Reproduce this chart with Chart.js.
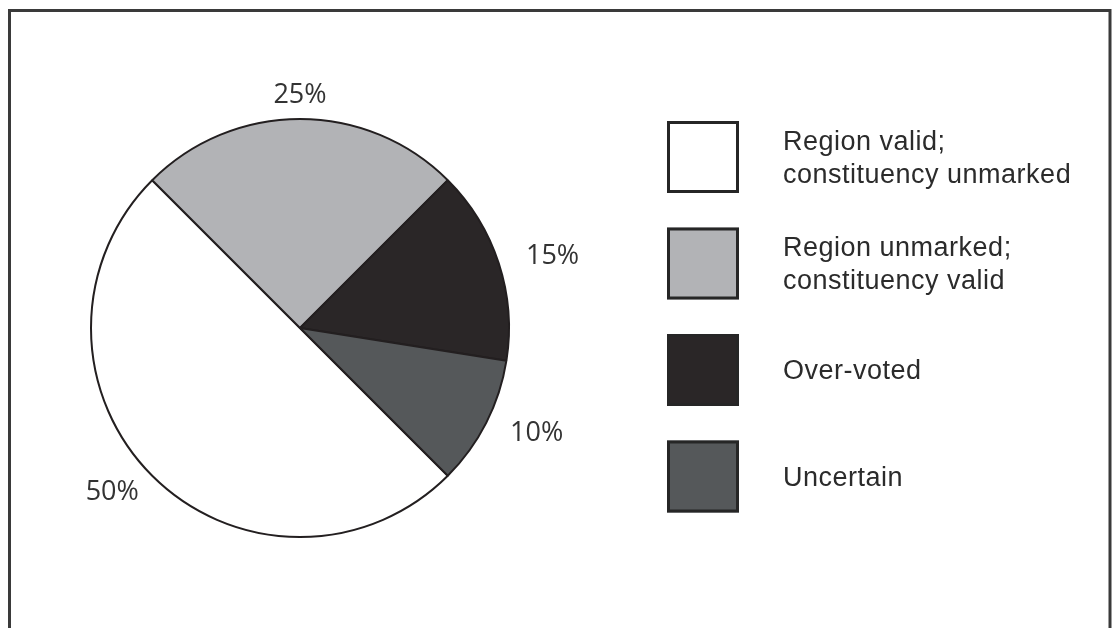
<!DOCTYPE html>
<html>
<head>
<meta charset="utf-8">
<script src="https://cdn.jsdelivr.net/npm/chart.js@4.4.1/dist/chart.umd.min.js"></script>
<style>
html, body { margin: 0; padding: 0; background: #fff; }
#wrap { width: 1112px; height: 628px; position: relative; }
</style>
</head>
<body>
<div id="wrap"><canvas id="myChart" width="1112" height="628"></canvas></div>
<script>
// categories (legend lines) and their shares in percent
var categories = [
	['Region valid;', 'constituency unmarked'],
	['Region unmarked;', 'constituency valid'],
	['Over-voted'],
	['Uncertain']
];
var shares = [50, 25, 15, 10];
var colours = ['#ffffff', '#b2b3b6', '#2a2627', '#55585a'];

// outer frame, open at the bottom like the scan
var framePlugin = {
	id: 'frame',
	beforeDraw: function(chart) {
		var ctx = chart.ctx;
		ctx.save();
		ctx.fillStyle = '#fff';
		ctx.fillRect(0, 0, chart.width, chart.height);
		ctx.strokeStyle = '#3a3a3a';
		ctx.lineWidth = 3;
		ctx.beginPath();
		ctx.moveTo(9.5, chart.height);
		ctx.lineTo(9.5, 10.5);
		ctx.lineTo(1110, 10.5);
		ctx.lineTo(1110, chart.height);
		ctx.stroke();
		ctx.restore();
	}
};

// percentage labels just outside each slice
var pctPlugin = {
	id: 'pctLabels',
	afterDatasetsDraw: function(chart) {
		var ctx = chart.ctx;
		var meta = chart.getDatasetMeta(0);
		ctx.save();
		ctx.font = '27px "Open Sans", sans-serif';
		ctx.fillStyle = '#333';
		ctx.textAlign = 'center';
		ctx.textBaseline = 'middle';
		meta.data.forEach(function(arc, i) {
			var p = arc.getProps(['x', 'y', 'startAngle', 'endAngle', 'outerRadius'], true);
			var mid = (p.startAngle + p.endAngle) / 2;
			var txt = shares[i] + '%';
			var w = ctx.measureText(txt).width;
			var h = 20;
			var d = p.outerRadius + 14;
			var cx = p.x + Math.cos(mid) * d + Math.cos(mid) * w * 0.8;
			var cy = p.y + Math.sin(mid) * d + Math.sin(mid) * h / 2;
			ctx.fillText(txt, cx, cy);
		});
		ctx.restore();
	}
};

// boxed legend on the right
var legendPlugin = {
	id: 'boxLegend',
	afterDraw: function(chart) {
		var ctx = chart.ctx;
		var bx = 667, by = 121, size = 72, step = 106.5;
		ctx.save();
		ctx.font = '27px "Liberation Sans", Arial, sans-serif';
		ctx.letterSpacing = '0.5px';
		ctx.textBaseline = 'alphabetic';
		ctx.textAlign = 'left';
		for (var i = 0; i < categories.length; i++) {
			var y0 = by + i * step;
			ctx.fillStyle = colours[i];
			ctx.fillRect(bx, y0, size, size);
			ctx.strokeStyle = '#262626';
			ctx.lineWidth = 3;
			ctx.strokeRect(bx + 1.5, y0 + 1.5, size - 3, size - 3);

			var lines = categories[i];
			var mid = y0 + size / 2;
			var lh = 33;
			ctx.fillStyle = '#2b2b2b';
			for (var j = 0; j < lines.length; j++) {
				var base = mid + 9 + (j - (lines.length - 1) / 2) * lh;
				ctx.fillText(lines[j], 783, base);
			}
		}
		ctx.restore();
	}
};

var ctx = document.getElementById('myChart').getContext('2d');
var myChart = new Chart(ctx, {
	type: 'pie',
	data: {
		labels: categories.map(function(c) { return c.join(' '); }),
		datasets: [{
			data: shares,
			backgroundColor: colours,
			borderColor: '#231f20',
			borderWidth: 2
		}]
	},
	options: {
		responsive: false,
		animation: false,
		rotation: 135,
		layout: { padding: { left: 90, right: 602, top: 118, bottom: 90 } },
		plugins: {
			legend: { display: false },
			tooltip: { enabled: false }
		}
	},
	plugins: [framePlugin, pctPlugin, legendPlugin]
});
</script>
</body>
</html>
